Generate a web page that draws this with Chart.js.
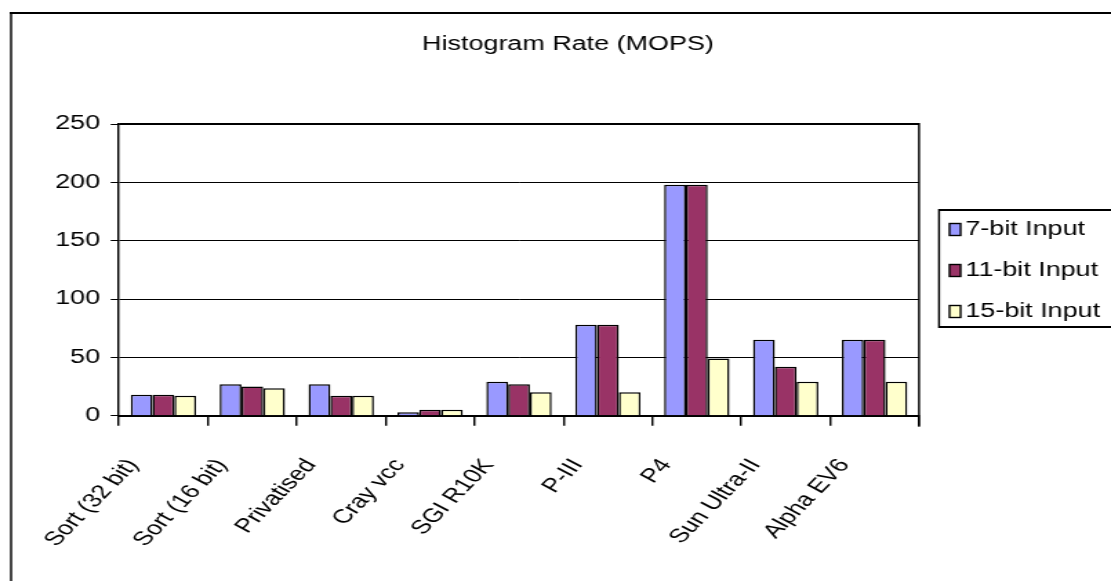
<!DOCTYPE html>
<html>
<head>
<meta charset="utf-8">
<title>Histogram Rate (MOPS)</title>
<style>
  html, body { margin: 0; padding: 0; background: #fff; overflow: hidden; }
</style>
<script src="https://cdn.jsdelivr.net/npm/chart.js@4/dist/chart.umd.min.js"></script>
</head>
<body>
<!-- drawn narrow and stretched sideways, like the original picture -->
<canvas id="histo" width="805" height="581" style="width:1111px;height:581px;display:block"></canvas>
<script>
var categories = ['Sort (32 bit)', 'Sort (16 bit)', 'Privatised', 'Cray vcc', 'SGI R10K', 'P-III', 'P4', 'Sun Ultra-II', 'Alpha EV6'];
var input7 = [18, 27, 27, 3, 29, 78, 198, 65, 65];
var input11 = [18, 25, 17, 5, 27, 78, 198, 42, 65];
var input15 = [17, 23.5, 17, 5, 20, 20, 49, 29, 29];
var yTicks = [0, 50, 100, 150, 200, 250];

var SX = 1111 / 805;
var FONT = "'Liberation Sans', Arial, sans-serif";

Chart.defaults.font.family = FONT;
Chart.defaults.font.size = 19.5;
Chart.defaults.color = '#000';

// title, outer frame, plot frame and legend box
var excelBits = {
    id: 'excelBits',
    afterDraw: function (chart) {
        var ctx = chart.ctx;
        var a = chart.chartArea;
        ctx.save();
        ctx.strokeStyle = '#000';

        // outer border (only left and top are inside the picture)
        ctx.lineWidth = 2;
        ctx.beginPath(); ctx.moveTo(7, 13); ctx.lineTo(chart.width, 13); ctx.stroke();
        ctx.lineWidth = 2 / SX;
        ctx.beginPath(); ctx.moveTo(8, 12); ctx.lineTo(8, chart.height); ctx.stroke();

        // plot area top and right
        ctx.lineWidth = 2;
        ctx.beginPath(); ctx.moveTo(a.left, a.top); ctx.lineTo(a.right, a.top); ctx.stroke();
        ctx.lineWidth = 2 / SX;
        ctx.beginPath(); ctx.moveTo(a.right, a.top - 1); ctx.lineTo(a.right, a.bottom + 11); ctx.stroke();

        // title
        ctx.fillStyle = '#000';
        ctx.font = '19.5px ' + FONT;
        ctx.textAlign = 'center';
        ctx.textBaseline = 'middle';
        ctx.fillText('Histogram Rate (MOPS)', 411.5, 45);

        // legend
        var lx = 680.4, ly = 210, lb = 327;
        ctx.lineWidth = 2;
        ctx.beginPath(); ctx.moveTo(lx, ly); ctx.lineTo(chart.width, ly); ctx.stroke();
        ctx.beginPath(); ctx.moveTo(lx, lb); ctx.lineTo(chart.width, lb); ctx.stroke();
        ctx.lineWidth = 2 / SX;
        ctx.beginPath(); ctx.moveTo(lx, ly - 1); ctx.lineTo(lx, lb + 1); ctx.stroke();

        ctx.textAlign = 'left';
        chart.data.datasets.forEach(function (ds, i) {
            var cy = 229.5 + i * 41;
            ctx.fillStyle = ds.backgroundColor;
            ctx.fillRect(688, cy - 6, 8, 12);
            ctx.lineWidth = 1.4;
            ctx.strokeRect(688, cy - 6, 8, 12);
            ctx.fillStyle = '#000';
            ctx.fillText(ds.label, 699.5, cy);
        });
        ctx.restore();
    }
};

var ctx = document.getElementById('histo').getContext('2d');
var histoChart = new Chart(ctx, {
    type: 'bar',
    data: {
        labels: categories,
        datasets: [{
            label: '7-bit Input',
            data: input7,
            backgroundColor: '#9999FF'
        }, {
            label: '11-bit Input',
            data: input11,
            backgroundColor: '#993366'
        }, {
            label: '15-bit Input',
            data: input15,
            backgroundColor: '#FFFFCC'
        }]
    },
    options: {
        responsive: false,
        animation: false,
        devicePixelRatio: 1,
        layout: { padding: { top: 124, right: 139.1, bottom: 0, left: 0 } },
        datasets: {
            bar: {
                borderColor: '#000',
                borderWidth: 1.5,
                categoryPercentage: 0.735,
                barPercentage: 1
            }
        },
        plugins: {
            legend: { display: false },
            title: { display: false },
            tooltip: { enabled: false }
        },
        scales: {
            x: {
                grid: {
                    drawOnChartArea: false,
                    color: '#000',
                    lineWidth: 2 / SX,
                    tickLength: 10
                },
                border: { color: '#000', width: 2 },
                ticks: {
                    autoSkip: false,
                    minRotation: 54,
                    maxRotation: 54,
                    padding: 29,
                    labelOffset: -22
                },
                afterFit: function (s) { s.height = 581 - 415.7; }
            },
            y: {
                min: 0,
                max: 250,
                afterBuildTicks: function (s) {
                    s.ticks = yTicks.map(function (v) { return { value: v }; });
                },
                grid: { color: '#000', lineWidth: 1, tickLength: 6 },
                border: { color: '#000', width: 2 / SX },
                ticks: { padding: 7.7 },
                afterFit: function (s) { s.width = 86.2; }
            }
        }
    },
    plugins: [excelBits]
});
</script>
</body>
</html>
